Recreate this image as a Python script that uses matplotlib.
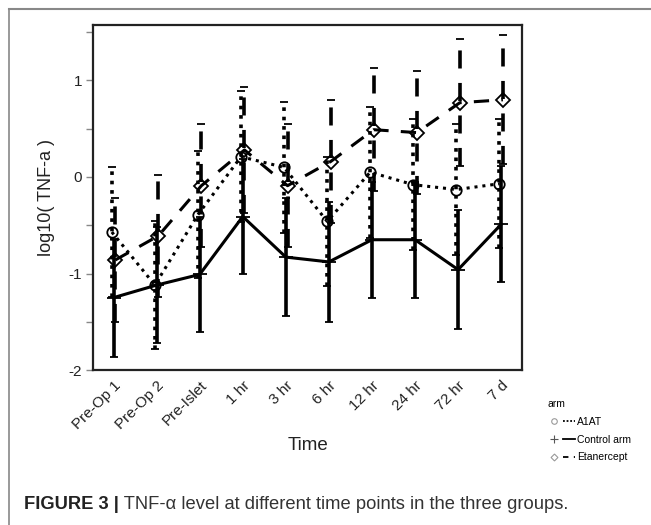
import numpy as np
import matplotlib
matplotlib.use("Agg")
import matplotlib.pyplot as plt
from matplotlib.lines import Line2D
from matplotlib.legend_handler import HandlerTuple

plt.rcParams['font.family'] = ['Liberation Sans', 'DejaVu Sans']

# datos
tiempos = ['Pre-Op 1', 'Pre-Op 2', 'Pre-Islet', '1 hr', '3 hr', '6 hr',
           '12 hr', '24 hr', '72 hr', '7 d']
a1at_media = [-0.57, -1.12, -0.39, 0.21, 0.10, -0.46, 0.05, -0.08, -0.13, -0.07]
a1at_sd = [0.67, 0.66, 0.66, 0.68, 0.68, 0.67, 0.68, 0.68, 0.68, 0.67]
control_media = [-1.25, -1.12, -1.01, -0.41, -0.83, -0.88, -0.65, -0.65, -0.96, -0.49]
control_sd = [0.61, 0.60, 0.60, 0.60, 0.61, 0.62, 0.60, 0.60, 0.62, 0.60]
etan_media = [-0.86, -0.61, -0.09, 0.28, -0.09, 0.16, 0.49, 0.46, 0.77, 0.80]
etan_sd = [0.64, 0.63, 0.64, 0.65, 0.64, 0.64, 0.64, 0.64, 0.66, 0.67]

x = np.arange(len(tiempos))

fig = plt.figure(figsize=(6.51, 5.25), dpi=100)
ax = fig.add_axes([0.1433, 0.2952, 0.659, 0.6572])

punteado = (0, (1, 1.6))
rayado = (0, (5, 4))

series = [
    (x - 0.04, a1at_media, a1at_sd, punteado, 'o', 7.5, 1.3),
    (x, control_media, control_sd, '-', '+', 10, 1.3),
    (x + 0.04, etan_media, etan_sd, rayado, 'D', 7.5, 1.3),
]
for xs, m, sd, ls, mk, ms, mew in series:
    eb = ax.errorbar(xs, m, yerr=sd, color='black', lw=2.2, ls=ls,
                     marker=mk, ms=ms, mfc='none', mec='black', mew=mew,
                     ecolor='black', elinewidth=2.6, capsize=3, capthick=3)
    eb[2][0].set_linestyle(ls)

ax.set_xlim(-0.47, 9.49)
ax.set_ylim(-2, 1.575)
ax.set_yticks(np.arange(-2, 1.6, 0.5))
ax.set_yticklabels(['-2', '', '-1', '', '0', '', '1', ''])
ax.set_xticks(x)
ax.set_xticklabels(tiempos, rotation=45, ha='right', va='top',
                   rotation_mode='anchor', fontsize=11, color='#222222')
ax.tick_params(axis='x', length=0, pad=6)
ax.tick_params(axis='y', length=5, width=1, color='#888888', labelsize=11,
               labelcolor='#222222', pad=3)
for s in ax.spines.values():
    s.set_linewidth(1.6)
    s.set_color('#222222')

ax.set_ylabel('log10( TNF-a )', fontsize=13, color='#222222', labelpad=10)
ax.set_xlabel('Time', fontsize=13.5, color='#222222', labelpad=4)

# leyenda
h_a1at = (Line2D([], [], ls='none', marker='o', ms=4, mfc='none', mec='#999999', mew=0.8),
          Line2D([], [], color='black', lw=1.3, ls=(0, (1, 1))))
h_ctrl = (Line2D([], [], ls='none', marker='+', ms=6, mec='#555555', mew=0.8),
          Line2D([], [], color='black', lw=1.3, ls='-'))
h_etan = (Line2D([], [], ls='none', marker='D', ms=3.5, mfc='none', mec='#999999', mew=0.8),
          Line2D([], [], color='black', lw=1.3, ls=(0, (3, 3))))
leg = fig.legend([h_a1at, h_ctrl, h_etan], ['A1AT', 'Control arm', 'Etanercept'],
                 handler_map={tuple: HandlerTuple(ndivide=2, pad=0.3)},
                 title='arm', loc='upper left', bbox_to_anchor=(0.835, 0.248),
                 frameon=False, fontsize=7.5, title_fontsize=7.5,
                 handlelength=2.6, handletextpad=0.2, labelspacing=0.75,
                 alignment='left', borderaxespad=0)

# marco exterior
fig.add_artist(Line2D([0.0138, 0.0138], [0, 0.983], transform=fig.transFigure,
                      color='#888888', lw=1.2))
fig.add_artist(Line2D([0.0138, 1.0], [0.983, 0.983], transform=fig.transFigure,
                      color='#888888', lw=1.5))

# pie de figura
t1 = fig.text(0.037, 0.03, 'FIGURE 3 |', fontsize=13.2, fontweight='bold',
              color='#222222', va='baseline')
ax.annotate(' TNF-\u03b1 level at different time points in the three groups.',
            xy=(1, 0), xycoords=t1, va='bottom', ha='left',
            fontsize=13.2, color='#333333', annotation_clip=False)

fig.savefig('out.png', dpi=100)
